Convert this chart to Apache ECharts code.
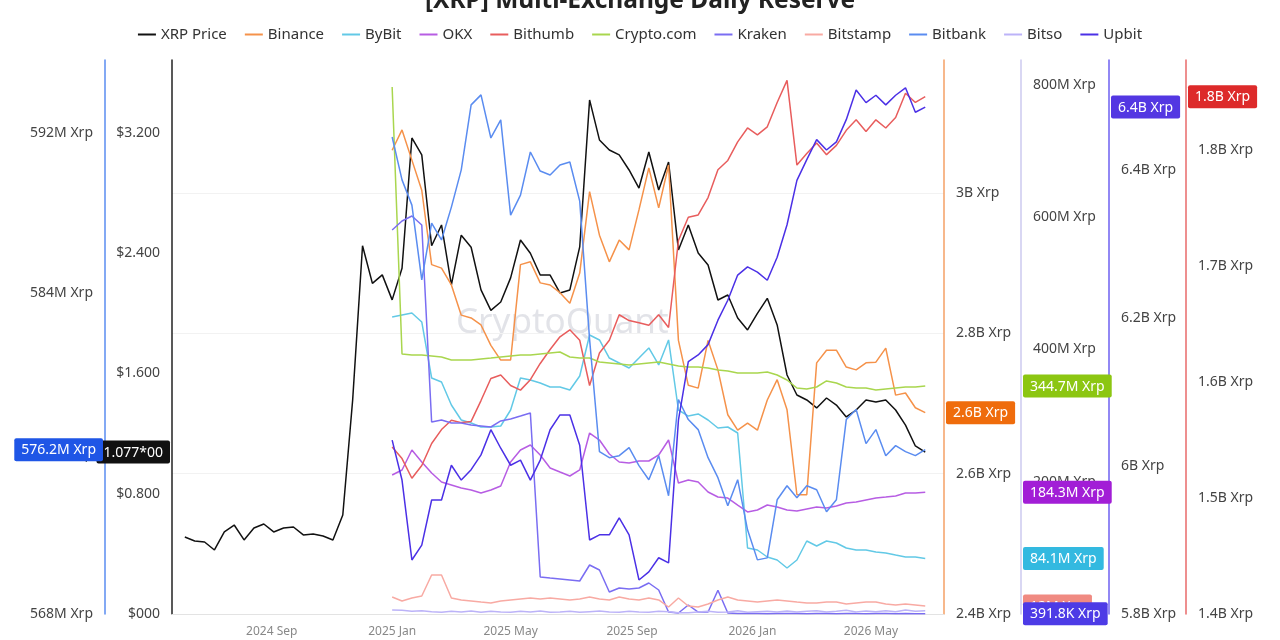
<!DOCTYPE html>
<html><head><meta charset="utf-8">
<script src="https://cdn.jsdelivr.net/npm/echarts@6/dist/echarts.min.js"></script>
<style>html,body{margin:0;padding:0;background:#fff}#c{width:1280px;height:640px}</style>
</head><body><div id="c"></div>
<script>
// ---------- data ----------
const startDate = '2024-06-05';   // first price sample
const stepDays = 10;              // sampling step
const exchangeStartIndex = 21;    // exchanges start 2025-01-01
const xMin = '2024-05-23', xMax = '2026-07-14';
const xTickDates = ['2024-09-01','2025-01-01','2025-05-01','2025-09-01','2026-01-01','2026-05-01'];
const monthNames = ['Jan','Feb','Mar','Apr','May','Jun','Jul','Aug','Sep','Oct','Nov','Dec'];
const legendNames = ['XRP Price','Binance','ByBit','OKX','Bithumb','Crypto.com','Kraken','Bitstamp','Bitbank','Bitso','Upbit'];

// XRP price (USD)
const price = [0.512,0.486,0.479,0.426,0.546,0.592,0.493,0.572,0.599,0.546,0.572,0.579,0.526,0.532,0.519,0.492,0.659,1.424,2.45,2.2,2.256,
  2.09,2.30,3.167,3.054,2.45,2.588,2.19,2.52,2.44,2.156,2.02,2.076,2.236,2.488,2.40,2.255,2.255,2.136,2.156,2.442,
  3.42,3.154,3.087,3.054,2.954,2.834,3.074,2.821,3.007,2.422,2.588,2.402,2.322,2.089,2.122,1.969,1.89,2.0,2.10,1.923,
  1.59,1.457,1.424,1.371,1.437,1.39,1.311,1.357,1.424,1.41,1.424,1.357,1.257,1.118,1.077];
// Reserves in million XRP
const binance = [3061,3090,3047,3004,2898,2893,2869,2826,2822,2812,
  2783,2762,2762,2898,2902,2872,2869,2858,2843,2886,
  3002,2940,2902,2933,2919,2976,3036,2979,3040,2790,
  2726,2722,2790,2748,2684,2662,2672,2662,2705,2734,
  2691,2570,2570,2758,2776,2776,2752,2748,2758,2759,
  2779,2712,2715,2694,2687];
const bybit = [449.2,452.2,455.2,441.6,356.9,350.9,316.1,293.4,288.8,282.8,
  282.8,284.3,308.5,356.9,353.9,349.3,343.3,343.3,338.8,359.9,
  421.9,414.4,387.1,379.6,372,387.1,402.3,376.6,414.4,308.5,
  299.4,302.5,293.4,281.3,282.8,273.7,99.8,96.8,86.2,81.7,
  69.6,81.7,110.4,102.8,110.4,107.4,99.8,96.8,96.8,93.8,
  92.3,89.2,86.2,86.2,84.1];
const okx = [210.2,217.8,248,229.9,213.2,199.6,195.1,190.5,187.5,183,
  187.5,193.6,229.9,248,255.6,240.5,220.8,214.7,208.7,217.8,
  273.7,263.1,242,229.9,228.4,231.4,231.4,240.5,263.1,198.1,
  202.6,199.6,184.5,176.9,175.4,164.8,154.3,157.3,164.8,161.8,
  157.3,155.8,158.8,161.8,160.3,163.3,167.9,169.4,172.4,175.4,
  176.9,178.5,183,183,184.3];
const bithumb = [1544,1534,1517,1528,1547,1559,1567,1565,1566,1584,
  1603,1606,1597,1593,1602,1616,1628,1639,1645,1636,
  1597,1625,1636,1658,1653,1651,1649,1658,1647,1722,
  1742,1744,1759,1783,1791,1807,1819,1813,1820,1841,
  1860,1787,1797,1806,1796,1804,1817,1826,1816,1826,
  1819,1828,1849,1841,1846];
const cryptoCom = [797,393.2,391.7,391.7,390.2,388.7,384.1,384.1,384.1,385.6,
  387.1,388.7,390.2,391.7,391.7,393.2,394.7,396.2,388.7,387.1,
  387.1,381.1,379.6,378.1,376.6,378.1,379.6,381.1,378.1,375,
  373.5,373.5,372,369,367.5,364.5,364.5,364.5,366,361.4,
  353.9,341.8,340.3,343.3,352.4,349.3,343.3,341.8,341.8,338.8,
  340.3,341.8,343.3,343.3,344.7];
const kraken = [580.7,594.3,601.9,588.3,290.4,293.4,288.8,288.8,285.8,284.3,
  282.8,291.9,294.9,299.4,304,56,54.4,52.9,51.4,49.9,
  74.1,66.5,33.3,39.3,37.8,39.3,46.9,36.3,3,1.5,
  13.6,3,3,36,1.5,0.8,0.6,0.9,0.5,0.7,
  0.6,0.8,0.5,0.7,0.6,0.5,0.8,0.6,0.5,0.7,
  0.6,0.5,0.7,0.5,0.3918];
const bitstamp = [25.7,19.7,24.2,27.2,59,59,24.2,21.2,19.7,18.1,
  16.6,19.7,21.2,22.7,24.2,22.7,24.2,22.7,21.2,22.7,
  25.7,22.7,21.2,25.7,22.7,21.2,24.2,21.2,10.6,24.2,
  12.1,10.6,15.1,21.2,25.7,21.2,19.7,18.1,19.7,21.2,
  19.7,18.1,16.6,16.6,18.1,18.1,15.1,16.6,18.1,18.1,
  15.1,13.6,15.1,13.6,12.0];
const bitbank = [591.8,589.66,588.4,584.67,587.5,586.66,588.3,590.16,593.4,593.9,
  591.75,592.65,587.9,588.9,591.05,590.1,589.9,590.4,590.55,588.6,
  581.7,576.1,575.8,575.9,576.3,575.4,574.7,575.9,573.9,578.7,
  577.7,577.2,575.8,574.8,573.4,574.7,572.2,570.7,570.8,573.7,
  574.4,573.8,574.4,574.2,573.1,573.7,577.7,578.2,576.5,577.2,
  575.9,576.4,576.1,575.9,576.2];
const bitso = [6,5.5,4,5,3.5,2.5,4,3,4.5,2.5,
  4,3,2.5,4,3,4.5,2.5,3,4,2.5,
  3.5,4.5,3,2.5,4,3,2.5,4,3.5,2,
  2,3,4,2.5,3,5,2.5,3.5,4,3,
  4.5,3,4,5,3,4,5.5,3,4.5,3.5,
  5,3.5,6,4,5];
const upbit = [6035,5981,5873,5893,5954,5954,6001,5981,5995,6015,
  6049,6024,6001,6008,5981,6008,6049,6069,6069,6028,
  5900,5907,5907,5930,5907,5846,5857,5876,5869,6062,
  6141,6150,6164,6197,6224,6258,6269,6262,6251,6282,
  6326,6386,6414,6441,6427,6438,6468,6508,6491,6501,
  6488,6501,6511,6478,6485];

// ---------- helpers ----------
const FONT = '"Noto Sans", "Open Sans", sans-serif';
function ts(s){ return new Date(s + 'T00:00:00').getTime(); }
const dates = [];
{ const d0 = new Date(startDate + 'T00:00:00');
  for (let k = 0; k < price.length; k++) { const d = new Date(d0); d.setDate(d.getDate() + k * stepDays); dates.push(d.getTime()); } }
function fmtXrp(v, trunc) {
  let n, u;
  if (v >= 1000) { n = v / 1000; u = 'B'; }
  else if (v >= 1 || v === 0) { n = v; u = 'M'; }
  else { n = v * 1000; u = 'K'; }
  n = trunc ? Math.floor(n * 10 + 1e-6) / 10 : Math.round(n * 10) / 10;
  return (Number.isInteger(n) ? String(n) : n.toFixed(1)) + u + ' Xrp';
}
const last = a => a[a.length - 1];

const C = {
  price: '#111111', binance: '#f5924a', bybit: '#62c9e6', okx: '#b75de3', bithumb: '#e85d5d',
  crypto: '#a9d64e', kraken: '#7a6df2', bitstamp: '#f8aaa3', bitbank: '#5a8cf0', bitso: '#bcb3f8', upbit: '#4b30e6'
};
const TAG = {
  price: '#111111', bitbank: '#1f56e6', binance: '#ef6c0c', crypto: '#8cc612', okx: '#a21ed6',
  bybit: '#33b9e0', bitstamp: '#f08a82', kraken: '#4d3be6', upbit: '#5337e2', bithumb: '#dd2a2a'
};

function tag(value, color, fmt) {
  return { show: true, type: 'none', status: 'show', value: value, triggerTooltip: false, triggerEmphasis: false,
    label: { show: true, formatter: p => fmt(p.value), backgroundColor: color, color: '#fff',
      padding: [5, 7, 4, 7], borderRadius: 2, margin: 2, fontSize: 14, fontFamily: FONT } };
}
function yAx(o) {
  const base = {
    type: 'value', scale: false,
    axisLine: { show: true, onZero: false, lineStyle: { color: o.lineColor || '#ccc', width: 1.5 } },
    axisTick: { show: false },
    splitLine: { show: false },
    axisLabel: { show: true, margin: 12, color: '#444', fontSize: 14, fontFamily: FONT, showMaxLabel: false, formatter: o.fmt }
  };
  delete o.lineColor; delete o.fmt;
  return Object.assign(base, o);
}
function hiddenY(o) {
  return Object.assign({
    type: 'value', axisLine: { show: false }, axisTick: { show: false }, splitLine: { show: false }, axisLabel: { show: false }
  }, o);
}
const fmtM = v => fmtXrp(v, false);
const fmtT = v => fmtXrp(v, true);
const lavender = { position: 'right', offset: 77, min: 0, max: 837.8, interval: 200 };

const yAxis = [
  yAx({ position: 'left', offset: 0, min: 0, max: 3.6857, interval: 0.8, lineColor: '#222',
        fmt: v => v === 0 ? '$000' : '$' + v.toFixed(3),
        axisPointer: tag(last(price), TAG.price, v => v.toFixed(3) + '*00') }),
  yAx({ position: 'left', offset: 67, min: 568, max: 595.64, interval: 8, lineColor: C.bitbank, fmt: fmtM,
        axisPointer: tag(last(bitbank), TAG.bitbank, fmtT) }),
  yAx({ position: 'right', offset: 0, min: 2400, max: 3189.7, interval: 200, lineColor: '#f5a066', fmt: fmtM,
        splitLine: { show: true, showMaxLine: false, showMinLine: false, lineStyle: { color: '#f2f2f2', width: 1 } },
        axisPointer: tag(last(binance), TAG.binance, fmtT) }),
  yAx(Object.assign({ lineColor: '#cdcaef', fmt: fmtM, axisPointer: tag(last(cryptoCom), TAG.crypto, fmtT) }, lavender)),
  yAx({ position: 'right', offset: 165, min: 5800, max: 6548.6, interval: 200, lineColor: '#6e60f0', fmt: fmtM,
        axisPointer: tag(last(upbit), TAG.upbit, fmtT) }),
  yAx({ position: 'right', offset: 242, min: 1400, max: 1877.6, interval: 100, lineColor: '#e86a6a', fmt: fmtM,
        axisPointer: tag(last(bithumb), TAG.bithumb, fmtT) }),
  hiddenY(Object.assign({ axisPointer: tag(last(okx), TAG.okx, fmtT) }, lavender)),
  hiddenY(Object.assign({ axisPointer: tag(last(bybit), TAG.bybit, fmtT) }, lavender)),
  hiddenY(Object.assign({ axisPointer: tag(last(bitstamp), TAG.bitstamp, fmtT) }, lavender)),
  hiddenY(Object.assign({ axisPointer: tag(last(kraken), TAG.kraken, fmtT) }, lavender))
];

function line(name, arr, yi, color, offset) {
  return { name, type: 'line', yAxisIndex: yi, data: arr.map((v, i) => [dates[i + offset], v]),
    showSymbol: false, symbol: 'none', silent: true, emphasis: { disabled: true },
    lineStyle: { width: 1.5, color }, itemStyle: { color } };
}
const E = exchangeStartIndex;
const series = [
  line('XRP Price', price, 0, C.price, 0),
  line('Binance', binance, 2, C.binance, E),
  line('ByBit', bybit, 3, C.bybit, E),
  line('OKX', okx, 3, C.okx, E),
  line('Bithumb', bithumb, 5, C.bithumb, E),
  line('Crypto.com', cryptoCom, 3, C.crypto, E),
  line('Kraken', kraken, 3, C.kraken, E),
  line('Bitstamp', bitstamp, 3, C.bitstamp, E),
  line('Bitbank', bitbank, 1, C.bitbank, E),
  line('Bitso', bitso, 3, C.bitso, E),
  line('Upbit', upbit, 4, C.upbit, E)
];

const chart = echarts.init(document.getElementById('c'), null, { renderer: 'canvas' });
chart.setOption({
  animation: false,
  backgroundColor: '#fff',
  title: { text: '[XRP] Multi-Exchange Daily Reserve', left: 'center', top: -16,
    textStyle: { fontSize: 24.5, fontWeight: 'bold', color: '#222', fontFamily: FONT } },
  legend: { data: legendNames, top: 22, left: 'center', icon: 'rect', itemWidth: 18, itemHeight: 2, itemGap: 18,
    textStyle: { fontSize: 15, color: '#333', fontFamily: FONT } },
  axisPointer: { triggerOn: 'none' },
  graphic: [{ type: 'text', left: 456, top: 306, z: -10, silent: true,
    style: { text: 'CryptoQuant', fontSize: 35, fontFamily: FONT, fontWeight: 'normal', fill: 'rgba(190,192,205,0.45)' } }],
  grid: { left: 172, right: 336, top: 60, bottom: 26, containLabel: false, outerBoundsMode: 'none' },
  xAxis: { type: 'value', min: ts(xMin), max: ts(xMax),
    axisLine: { show: true, onZero: false, lineStyle: { color: '#e3e3e3', width: 1 } },
    axisTick: { show: false }, splitLine: { show: false },
    axisLabel: { customValues: xTickDates.map(ts), color: '#888', fontSize: 12, fontFamily: FONT, margin: 12,
      formatter: v => { const d = new Date(v); return d.getFullYear() + ' ' + monthNames[d.getMonth()]; } } },
  yAxis: yAxis,
  series: series
});
</script></body></html>
